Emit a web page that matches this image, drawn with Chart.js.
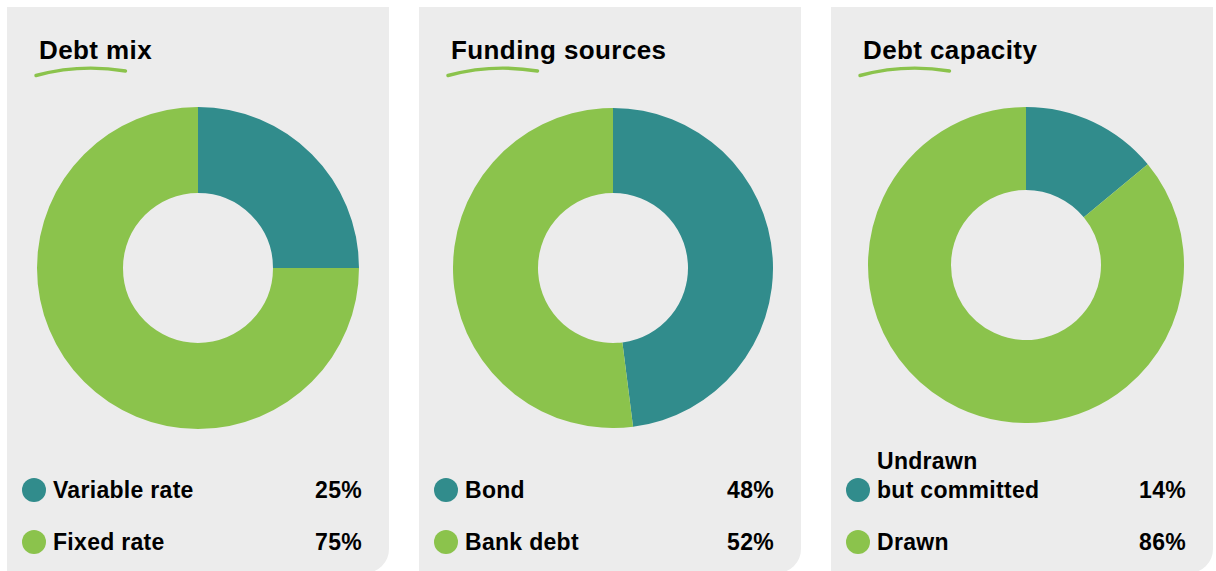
<!DOCTYPE html>
<html>
<head>
<meta charset="utf-8">
<script src="https://cdn.jsdelivr.net/npm/chart.js@4.4.1/dist/chart.umd.min.js"></script>
<style>
  html, body { margin: 0; padding: 0; background: #fff; }
  body { width: 1216px; height: 571px; position: relative; overflow: hidden;
         font-family: "Liberation Sans", Arial, Helvetica, sans-serif; color: #000; }
  .panel { position: absolute; top: 7px; width: 382px; height: 566px;
           background: #ececec; border-radius: 0 0 24px 0; }
  .title { position: absolute; left: 32px; top: 30px; font-size: 26px; line-height: 26px;
           font-weight: bold; letter-spacing: 0.4px; white-space: nowrap; }
  .underline { position: absolute; left: 0; top: 0; overflow: visible; }
  .panel canvas { position: absolute; }
  .row { position: absolute; left: 15px; right: 27px; height: 30px; display: flex;
         align-items: center; font-size: 23px; line-height: 23px; font-weight: bold;
         letter-spacing: 0.3px; white-space: nowrap; }
  .dot { width: 24px; height: 24px; border-radius: 50%; flex: none; margin-right: 7px; }
  .label { position: relative; flex: 1; }
  .label .above { position: absolute; left: 0; bottom: 29px; }
  .value { flex: none; text-align: right; }
</style>
</head>
<body>
<script>
// chart data
const titles = ['Debt mix', 'Funding sources', 'Debt capacity'];
const debtMixLabels = ['Variable rate', 'Fixed rate'];
const debtMixValues = [25, 75];
const fundingLabels = ['Bond', 'Bank debt'];
const fundingValues = [48, 52];
const capacityLabels = ['Undrawn\nbut committed', 'Drawn'];
const capacityValues = [14, 86];

const colors = ['#318c8c', '#8bc34c'];

// where each panel and its ring sit
const panelLeft = [7, 419, 831];
const ringBox = [
  { left: 30, top: 100, size: 322 },
  { left: 34, top: 101, size: 320 },
  { left: 37, top: 100, size: 316 }
];
const rowTops = [475, 527];

const charts = [
  { labels: debtMixLabels, values: debtMixValues },
  { labels: fundingLabels, values: fundingValues },
  { labels: capacityLabels, values: capacityValues }
];

charts.forEach((c, i) => {
  const panel = document.createElement('div');
  panel.className = 'panel';
  panel.style.left = panelLeft[i] + 'px';
  document.body.appendChild(panel);

  const t = document.createElement('div');
  t.className = 'title';
  t.textContent = titles[i];
  panel.appendChild(t);

  // green hand-drawn stroke under the title
  const svgNS = 'http://www.w3.org/2000/svg';
  const svg = document.createElementNS(svgNS, 'svg');
  svg.setAttribute('class', 'underline');
  svg.setAttribute('width', '140');
  svg.setAttribute('height', '90');
  const path = document.createElementNS(svgNS, 'path');
  path.setAttribute('d', 'M29 68.5 Q73 56.5 118.5 64');
  path.setAttribute('fill', 'none');
  path.setAttribute('stroke', colors[1]);
  path.setAttribute('stroke-width', '3.4');
  path.setAttribute('stroke-linecap', 'round');
  svg.appendChild(path);
  panel.appendChild(svg);

  const box = ringBox[i];
  const canvas = document.createElement('canvas');
  canvas.width = box.size;
  canvas.height = box.size;
  canvas.style.left = box.left + 'px';
  canvas.style.top = box.top + 'px';
  canvas.style.width = box.size + 'px';
  canvas.style.height = box.size + 'px';
  panel.appendChild(canvas);

  new Chart(canvas, {
    type: 'doughnut',
    data: {
      labels: c.labels.map(l => l.replace('\n', ' ')),
      datasets: [{
        data: c.values,
        backgroundColor: colors,
        borderWidth: 0,
        hoverOffset: 0,
        offset: 0
      }]
    },
    options: {
      responsive: false,
      animation: false,
      cutout: 75,
      layout: { padding: 0 },
      plugins: {
        legend: { display: false },
        tooltip: { enabled: false }
      }
    }
  });

  // legend rows
  c.labels.forEach((lab, j) => {
    const row = document.createElement('div');
    row.className = 'row';
    row.style.top = (rowTops[j] - 7) + 'px';
    const dot = document.createElement('div');
    dot.className = 'dot';
    dot.style.background = colors[j];
    const label = document.createElement('div');
    label.className = 'label';
    const parts = lab.split('\n');
    if (parts.length > 1) {
      const above = document.createElement('span');
      above.className = 'above';
      above.textContent = parts[0];
      label.appendChild(above);
    }
    label.appendChild(document.createTextNode(parts[parts.length - 1]));
    const val = document.createElement('div');
    val.className = 'value';
    val.textContent = c.values[j] + '%';
    row.appendChild(dot);
    row.appendChild(label);
    row.appendChild(val);
    panel.appendChild(row);
  });
});
</script>
</body>
</html>
